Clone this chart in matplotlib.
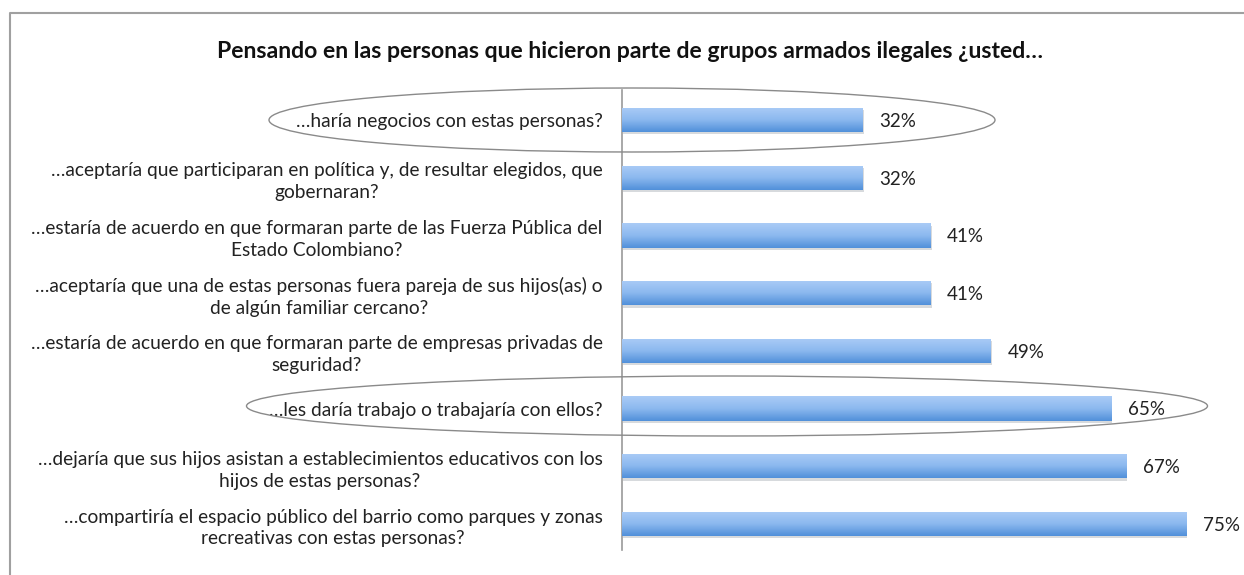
import numpy as np
import matplotlib
matplotlib.use("Agg")
import matplotlib.pyplot as plt
from matplotlib.patches import Ellipse
from matplotlib.lines import Line2D
from matplotlib.colors import LinearSegmentedColormap
import matplotlib.patheffects as pe

plt.rcParams['font.family'] = ['Lato', 'DejaVu Sans']

title = "Pensando en las personas que hicieron parte de grupos armados ilegales ¿usted…"
categories = [
    "…haría negocios con estas personas?",
    "…aceptaría que participaran en política y, de resultar elegidos, que\ngobernaran?",
    "…estaría de acuerdo en que formaran parte de las Fuerza Pública del\nEstado Colombiano?",
    "…aceptaría que una de estas personas fuera pareja de sus hijos(as) o\nde algún familiar cercano?",
    "…estaría de acuerdo en que formaran parte de empresas privadas de\nseguridad?",
    "…les daría trabajo o trabajaría con ellos?",
    "…dejaría que sus hijos asistan a establecimientos educativos con los\nhijos de estas personas?",
    "…compartiría el espacio público del barrio como parques y zonas\nrecreativas con estas personas?",
]
values = [32, 32, 41, 41, 49, 65, 67, 75]
value_labels = ["32%", "32%", "41%", "41%", "49%", "65%", "67%", "75%"]

W, H = 1244, 575
fig = plt.figure(figsize=(W / 100, H / 100), dpi=100)
fig.patch.set_facecolor("white")

# main axes
ax = fig.add_axes([622 / W, 1 - 550 / H, 617 / W, 460 / H])
ypos = np.arange(len(categories))
bars = ax.barh(ypos, values, height=0.42, color="#7fb0ea", zorder=2)
cmap = LinearSegmentedColormap.from_list("g", ["#aacbf6", "#8cb9ef", "#5190da"])
grad = np.linspace(0, 1, 64).reshape(-1, 1)
for b in bars:
    b.set_path_effects([pe.SimplePatchShadow(offset=(0.8, -1.6), alpha=0.18), pe.Normal()])
    x0, y0 = b.get_x(), b.get_y()
    w, h = b.get_width(), b.get_height()
    # y axis is inverted: y0 is the top edge on screen
    im = ax.imshow(grad, cmap=cmap, aspect="auto", extent=(x0, x0 + w, y0 + h, y0),
                   origin="upper", zorder=3, interpolation="bilinear")
    im.set_clip_path(b)

for y, v, lab in zip(ypos, values, value_labels):
    ax.annotate(lab, (v, y), xytext=(12, -1), textcoords="offset points",
                ha="left", va="center", fontsize=13.5, color="#222222")

ax.set_xlim(0, 82)
ax.set_ylim(7.45, -0.52)
ax.set_yticks(ypos)
ax.set_yticklabels(categories, fontsize=13.8, multialignment="center",
                   color="#222222", linespacing=1.35)
ax.tick_params(axis="y", length=0, pad=14)
ax.set_xticks([])
for s in ["top", "right", "bottom"]:
    ax.spines[s].set_visible(False)
ax.spines["left"].set_color("#9a9a9a")
ax.spines["left"].set_linewidth(1.2)
ax.set_facecolor("none")

fig.text(630 / W, 1 - 52 / H, title, ha="center", va="center",
         fontsize=16.6, fontweight="bold", color="#111111")

# overlay for frame and highlight ellipses
ov = fig.add_axes([0, 0, 1, 1], facecolor="none")
ov.set_xlim(0, W)
ov.set_ylim(H, 0)
ov.axis("off")
ov.add_line(Line2D([10, 10, W + 5], [H + 5, 13, 13], color="#a0a0a0", lw=1.5))
ov.add_patch(Ellipse((632, 120), 726, 64, fill=False, ec="#8a8a8a", lw=1.0))
ov.add_patch(Ellipse((727, 406), 961, 60, fill=False, ec="#8a8a8a", lw=1.0))

fig.savefig("out.png", dpi=100, facecolor="white")
